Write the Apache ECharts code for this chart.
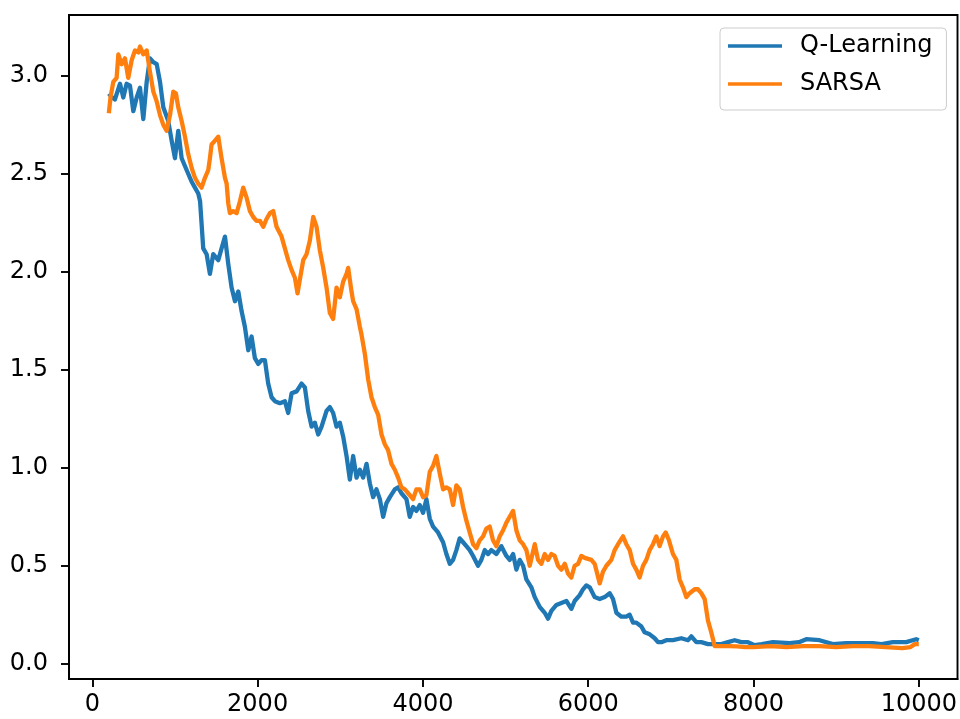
<!DOCTYPE html>
<html>
<head>
<meta charset="utf-8">
<script src="https://cdn.jsdelivr.net/npm/echarts@6/dist/echarts.min.js"></script>
<style>
html,body{margin:0;padding:0;background:#fff;}
#chart{width:960px;height:719px;}
</style>
</head>
<body>
<div id="chart"></div>
<script>
// Episode / value readings
const qEpisodes = [200,240,274,335,375,415,456,496,537,577,617,658,698,738,779,819,859,919,960,1000,1040,1081,1141,1202,1242,1282,1304,1342,1383,1423,1463,1524,1564,1605,1645,1685,1726,1766,1806,1846,1887,1927,1967,2008,2048,2088,2128,2169,2209,2270,2330,2370,2411,2472,2532,2572,2612,2653,2693,2733,2774,2834,2874,2914,2955,2995,3035,3076,3116,3156,3197,3237,3277,3318,3358,3398,3438,3479,3519,3559,3600,3660,3700,3740,3801,3841,3881,3921,3962,4002,4042,4083,4123,4183,4244,4284,4325,4365,4405,4445,4486,4526,4566,4607,4667,4707,4748,4788,4828,4889,4949,5010,5050,5091,5131,5171,5212,5252,5312,5353,5413,5474,5514,5554,5615,5675,5736,5796,5836,5897,5937,5977,6018,6078,6139,6199,6260,6300,6341,6401,6461,6502,6542,6582,6643,6683,6744,6804,6844,6885,6945,7025,7127,7208,7248,7308,7369,7449,7530,7611,7691,7772,7852,7933,8013,8100,8235,8437,8550,8638,8799,8960,9122,9250,9444,9550,9686,9847,9968,10000];
const qValues = [2.91,2.89,2.88,2.96,2.89,2.96,2.95,2.82,2.89,2.94,2.78,2.97,3.09,3.07,3.06,2.97,2.84,2.77,2.67,2.58,2.72,2.58,2.52,2.46,2.43,2.40,2.36,2.12,2.09,1.99,2.09,2.06,2.12,2.18,2.04,1.92,1.85,1.90,1.80,1.72,1.60,1.67,1.56,1.53,1.55,1.55,1.43,1.36,1.34,1.33,1.34,1.28,1.38,1.39,1.43,1.41,1.29,1.21,1.23,1.17,1.21,1.29,1.31,1.28,1.21,1.23,1.16,1.06,0.94,1.06,0.95,0.99,0.95,1.02,0.92,0.85,0.89,0.84,0.75,0.82,0.85,0.89,0.90,0.87,0.84,0.75,0.80,0.78,0.81,0.77,0.84,0.74,0.70,0.67,0.62,0.56,0.51,0.53,0.58,0.64,0.62,0.60,0.58,0.55,0.50,0.53,0.58,0.56,0.58,0.56,0.60,0.55,0.53,0.56,0.48,0.53,0.50,0.43,0.39,0.34,0.29,0.26,0.23,0.27,0.30,0.31,0.32,0.28,0.32,0.35,0.38,0.40,0.39,0.34,0.33,0.34,0.36,0.33,0.26,0.24,0.24,0.25,0.21,0.21,0.19,0.16,0.15,0.13,0.11,0.11,0.12,0.12,0.13,0.12,0.14,0.11,0.11,0.10,0.10,0.10,0.11,0.12,0.11,0.11,0.095,0.10,0.11,0.105,0.11,0.125,0.12,0.10,0.105,0.105,0.105,0.10,0.11,0.11,0.125,0.12];

const sEpisodes = [200,220,254,294,315,355,395,435,476,516,557,577,617,658,698,738,779,819,859,899,940,980,1012,1040,1081,1121,1161,1202,1242,1282,1322,1363,1403,1423,1443,1484,1524,1564,1605,1625,1645,1665,1705,1746,1786,1826,1866,1907,1947,1987,2028,2068,2108,2149,2189,2229,2290,2330,2370,2411,2451,2483,2511,2552,2592,2632,2673,2713,2753,2794,2834,2874,2914,2955,2995,3035,3076,3096,3136,3156,3197,3237,3257,3298,3338,3378,3418,3459,3499,3539,3579,3620,3660,3700,3740,3781,3821,3881,3921,3962,4002,4042,4083,4123,4163,4204,4244,4284,4325,4365,4405,4445,4486,4526,4566,4607,4647,4687,4728,4768,4808,4848,4889,4929,4969,5010,5050,5091,5131,5171,5212,5252,5292,5353,5393,5433,5474,5514,5554,5594,5635,5675,5716,5756,5796,5836,5877,5917,5957,6038,6078,6139,6179,6220,6280,6320,6361,6421,6461,6502,6542,6582,6622,6663,6703,6743,6784,6824,6864,6905,6937,6977,7025,7066,7106,7146,7187,7227,7288,7328,7368,7409,7449,7489,7530,7600,7700,7800,7900,8000,8200,8400,8600,8800,9000,9200,9400,9600,9800,9900,9950,10000];
const sValues = [2.81,2.89,2.97,2.99,3.11,3.06,3.09,2.99,3.08,3.13,3.12,3.15,3.11,3.13,3.02,2.92,2.87,2.80,2.75,2.72,2.80,2.92,2.91,2.84,2.77,2.69,2.60,2.53,2.48,2.45,2.43,2.48,2.52,2.58,2.65,2.67,2.69,2.58,2.48,2.45,2.35,2.30,2.31,2.30,2.36,2.43,2.38,2.31,2.28,2.26,2.26,2.23,2.27,2.30,2.31,2.23,2.18,2.12,2.06,2.01,1.97,1.89,1.96,2.06,2.09,2.16,2.28,2.23,2.11,2.02,1.92,1.79,1.76,1.92,1.87,1.95,1.99,2.02,1.90,1.85,1.81,1.72,1.68,1.58,1.45,1.36,1.31,1.27,1.17,1.12,1.09,1.02,0.99,0.95,0.90,0.89,0.87,0.84,0.89,0.89,0.85,0.86,0.98,1.01,1.06,0.97,0.89,0.90,0.89,0.81,0.91,0.89,0.80,0.73,0.67,0.61,0.59,0.63,0.65,0.69,0.70,0.63,0.60,0.65,0.68,0.72,0.75,0.78,0.68,0.63,0.61,0.58,0.50,0.61,0.53,0.51,0.56,0.53,0.56,0.55,0.50,0.48,0.51,0.46,0.44,0.50,0.51,0.55,0.54,0.53,0.51,0.41,0.47,0.50,0.53,0.58,0.61,0.65,0.61,0.58,0.51,0.48,0.44,0.50,0.53,0.58,0.61,0.65,0.60,0.65,0.67,0.63,0.56,0.53,0.43,0.39,0.34,0.36,0.38,0.38,0.36,0.33,0.22,0.16,0.09,0.09,0.09,0.088,0.085,0.085,0.09,0.085,0.09,0.09,0.085,0.09,0.09,0.085,0.08,0.085,0.10,0.10];

const xTicks = [0,2000,4000,6000,8000,10000];
const yTicks = [0,0.5,1.0,1.5,2.0,2.5,3.0];
const seriesNames = ['Q-Learning','SARSA'];
const seriesColors = ['#1f77b4','#ff7f0e'];

const zip = (xs, ys) => xs.map((x, i) => [x, ys[i]]);
const FONT = 'DejaVu Sans';

const chart = echarts.init(document.getElementById('chart'), null, {renderer:'canvas'});
chart.setOption({
  animation:false,
  backgroundColor:'#ffffff',
  color: seriesColors,
  grid:{left:69, top:15, right:2, bottom:40, show:true, borderColor:'#000', borderWidth:1.9, backgroundColor:'transparent'},
  legend:{
    show:true, orient:'vertical', left:720, top:28,
    data: seriesNames,
    icon:'rect', itemWidth:54, itemHeight:3.6, itemGap:10,
    padding:[4,14,12,8],
    borderColor:'#cccccc', borderWidth:1, borderRadius:4, backgroundColor:'rgba(255,255,255,0.8)',
    textStyle:{fontFamily:FONT, fontSize:24, color:'#000', lineHeight:28, padding:[0,0,0,13]}
  },
  xAxis:{
    type:'value', min:-282, max:10468,
    axisLine:{show:true, onZero:false, lineStyle:{color:'#000', width:1.9}},
    axisTick:{show:true, inside:false, length:8, lineStyle:{color:'#000', width:1.9}, customValues:xTicks},
    axisLabel:{show:true, margin:14, fontFamily:FONT, fontSize:24, color:'#000', customValues:xTicks, formatter:v=>String(v)},
    splitLine:{show:false}
  },
  yAxis:{
    type:'value', min:-0.078, max:3.311,
    axisLine:{show:true, onZero:false, lineStyle:{color:'#000', width:1.9}},
    axisTick:{show:true, inside:false, length:8, lineStyle:{color:'#000', width:1.9}, customValues:yTicks},
    axisLabel:{show:true, margin:21, fontFamily:FONT, fontSize:24, color:'#000', customValues:yTicks, formatter:v=>v.toFixed(1)},
    splitLine:{show:false}
  },
  series:[
    {name:seriesNames[0], type:'line', data:zip(qEpisodes,qValues), showSymbol:false, symbol:'none', lineStyle:{width:4.3, color:seriesColors[0], join:'round'}, itemStyle:{color:seriesColors[0]}, z:2},
    {name:seriesNames[1], type:'line', data:zip(sEpisodes,sValues), showSymbol:false, symbol:'none', lineStyle:{width:4.3, color:seriesColors[1], join:'round'}, itemStyle:{color:seriesColors[1]}, z:3}
  ]
});
</script>
</body>
</html>
